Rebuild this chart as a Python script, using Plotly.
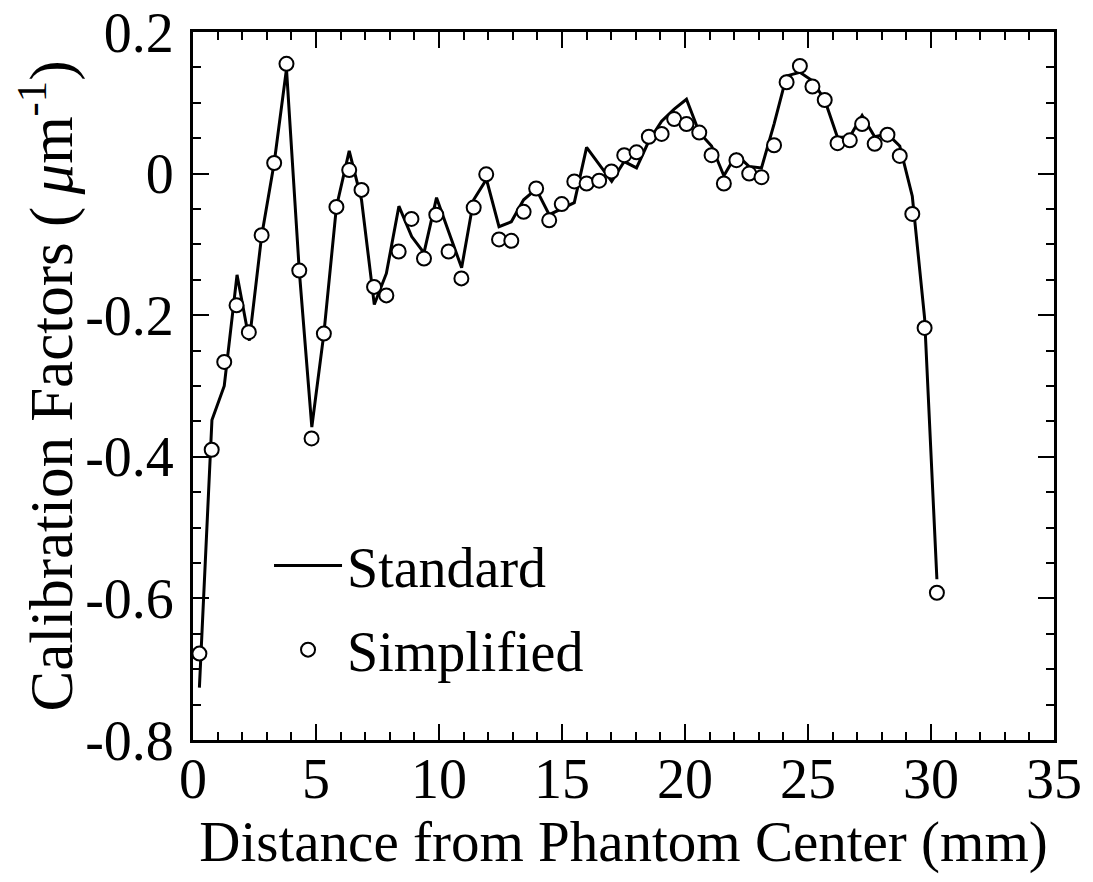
import plotly.graph_objects as go

# Standard (line) data
std_x = [0.26, 0.77, 1.27, 1.79, 2.29, 2.79, 3.30, 3.80, 4.32, 4.83,
         5.32, 5.83, 6.35, 6.85, 7.37, 7.86, 8.37, 8.89, 9.39, 9.90,
         10.40, 10.92, 11.41, 11.93, 12.44, 12.94, 13.44, 13.95, 14.48, 14.99,
         15.50, 16.00, 16.51, 17.02, 17.53, 18.03, 18.53, 19.05, 19.56, 20.06,
         20.58, 21.08, 21.58, 22.09, 22.61, 23.11, 23.62, 24.13, 24.67, 25.18,
         25.68, 26.20, 26.70, 27.20, 27.71, 28.23, 28.73, 29.24, 29.74, 30.24]
std_y = [-0.726, -0.348, -0.300, -0.143, -0.236, -0.088, 0.015, 0.148, -0.137, -0.358,
         -0.226, -0.047, 0.032, -0.037, -0.185, -0.141, -0.046, -0.089, -0.112, -0.034,
         -0.083, -0.133, -0.037, -0.008, -0.075, -0.068, -0.037, -0.022, -0.058, -0.049,
         -0.041, 0.037, 0.013, -0.011, 0.017, 0.008, 0.046, 0.074, 0.091, 0.105,
         0.058, 0.039, -0.003, 0.027, 0.010, 0.008, 0.070, 0.138, 0.143, 0.131,
         0.104, 0.051, 0.052, 0.082, 0.052, 0.056, 0.039, -0.032, -0.204, -0.573]

# Simplified (open circles) data
sim_x = [0.26, 0.76, 1.27, 1.77, 2.27, 2.79, 3.30, 3.80, 4.32, 4.82,
         5.32, 5.83, 6.35, 6.85, 7.36, 7.86, 8.36, 8.88, 9.39, 9.89,
         10.39, 10.91, 11.41, 11.92, 12.44, 12.94, 13.44, 13.95, 14.48, 14.99,
         15.50, 16.00, 16.51, 17.01, 17.53, 18.03, 18.53, 19.05, 19.56, 20.06,
         20.58, 21.08, 21.58, 22.09, 22.61, 23.11, 23.62, 24.13, 24.67, 25.18,
         25.68, 26.20, 26.70, 27.20, 27.71, 28.23, 28.73, 29.24, 29.74, 30.24]
sim_y = [-0.678, -0.390, -0.266, -0.186, -0.224, -0.087, 0.015, 0.155, -0.137, -0.374,
         -0.226, -0.047, 0.005, -0.023, -0.160, -0.172, -0.110, -0.064, -0.120, -0.058,
         -0.110, -0.148, -0.048, -0.001, -0.093, -0.095, -0.054, -0.021, -0.066, -0.043,
         -0.011, -0.014, -0.010, 0.003, 0.026, 0.030, 0.052, 0.056, 0.077, 0.070,
         0.058, 0.026, -0.014, 0.019, 0.000, -0.005, 0.040, 0.129, 0.152, 0.123,
         0.104, 0.043, 0.047, 0.070, 0.042, 0.055, 0.025, -0.057, -0.218, -0.592]

y_tickvals = [-0.8, -0.6, -0.4, -0.2, 0, 0.2]
y_ticktext = ["-0.8", "-0.6", "-0.4", "-0.2", "0", "0.2"]
x_tickvals = [0, 5, 10, 15, 20, 25, 30, 35]

FONT = "Liberation Serif"

fig = go.Figure()
fig.add_trace(go.Scatter(
    x=std_x, y=std_y, mode="lines", name="Standard", showlegend=True,
    line=dict(color="black", width=3), legend="legend"))
fig.add_trace(go.Scatter(
    x=sim_x, y=sim_y, mode="markers", name="Simplified", showlegend=True,
    marker=dict(symbol="circle", size=14, color="white",
                line=dict(color="black", width=2)),
    legend="legend2"))

axis_common = dict(
    showline=True, linewidth=3, linecolor="black", mirror="allticks",
    ticks="inside", ticklen=16, tickwidth=2, tickcolor="black",
    showgrid=False, zeroline=False, automargin=False,
    ticklabeloverflow="allow",
    tickfont=dict(family=FONT, size=56, color="black"),
)

fig.update_layout(
    width=1085, height=874,
    margin=dict(l=185, r=39, t=24, b=142),
    paper_bgcolor="white", plot_bgcolor="white",
    showlegend=True,
    font=dict(family=FONT, size=56, color="black"),
    xaxis=dict(
        range=[0, 35], tickvals=x_tickvals,
        minor=dict(dtick=1, tick0=0, ticks="inside", ticklen=8, tickwidth=1.5, tickcolor="black"),
        title=dict(text="Distance from Phantom Center (mm)", standoff=6,
                   font=dict(family=FONT, size=57, color="black")),
        ticklabelstandoff=-12,
        **axis_common),
    yaxis=dict(
        range=[-0.8, 0.2], tickvals=y_tickvals, ticktext=y_ticktext,
        minor=dict(dtick=0.05, tick0=0, ticks="inside", ticklen=8, tickwidth=1.5, tickcolor="black"),
        title=dict(text="Calibration Factors (\u2009<i>μ</i>m<sup>-1</sup>)", standoff=25,
                   font=dict(family=FONT, size=61, color="black")),
        ticklabelstandoff=5,
        **axis_common),
    legend=dict(x=0.0883, y=0.2465, xanchor="left", yanchor="middle", itemwidth=68,
                bgcolor="rgba(0,0,0,0)", font=dict(family=FONT, size=56, color="black")),
    legend2=dict(x=0.0883, y=0.1275, xanchor="left", yanchor="middle", itemwidth=68,
                 bgcolor="rgba(0,0,0,0)", font=dict(family=FONT, size=56, color="black")),
)

fig.write_html("out.html")
